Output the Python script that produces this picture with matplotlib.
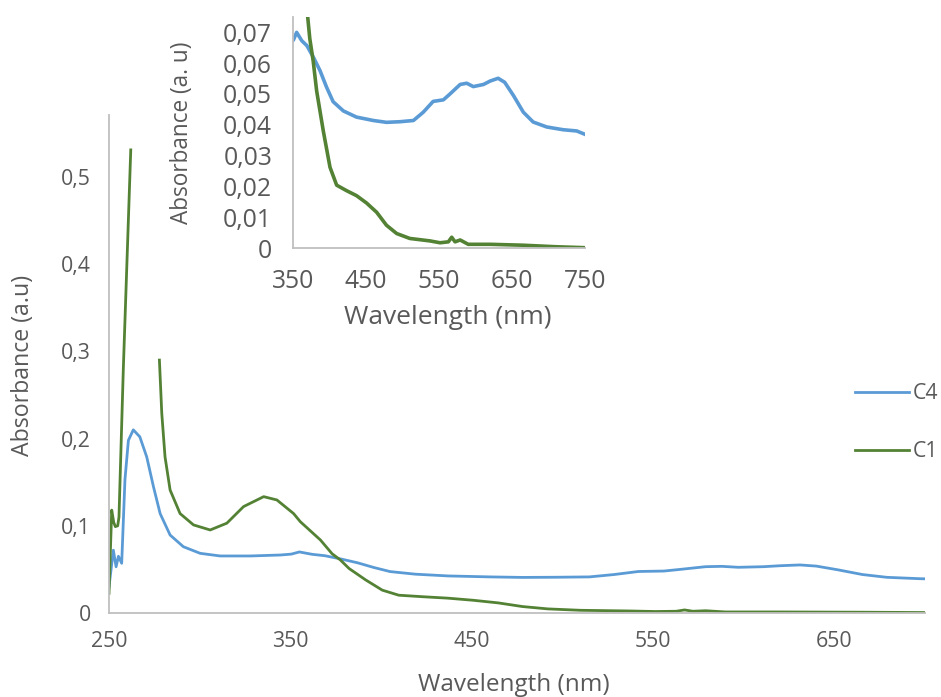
import numpy as np
import matplotlib
matplotlib.use("Agg")
import matplotlib.pyplot as plt

# UV-vis spectra (wavelength nm, absorbance a.u.)
c4_nm = [250, 252.4, 253.9, 255.2, 257, 258.8, 260.7, 263.4, 267, 270.8, 274.5, 278.2,
         283.7, 291, 300.3, 311.3, 328, 344.5, 350.5, 355, 362, 369, 378, 387, 396,
         405, 419, 437, 460, 478, 496.6, 515, 528.5, 542, 556, 565, 579, 588, 597,
         611, 620, 631, 640, 652, 665.5, 679, 697.5, 720, 738.6, 750]
c4_abs = [0.030, 0.072, 0.053, 0.065, 0.057, 0.153, 0.198, 0.210, 0.202, 0.179, 0.145, 0.114,
          0.0894, 0.076, 0.0684, 0.0654, 0.0654, 0.0665, 0.0675, 0.0700, 0.0673, 0.0657,
          0.0619, 0.0576, 0.0522, 0.0475, 0.0445, 0.0425, 0.0414, 0.0408, 0.0410, 0.0414,
          0.0441, 0.0476, 0.0481, 0.0500, 0.0531, 0.0535, 0.0524, 0.0531, 0.0542, 0.0551,
          0.0538, 0.0495, 0.0441, 0.0409, 0.0393, 0.0384, 0.0380, 0.0369]

# the C1 record has a gap after the sharp peak near 262 nm
c1_nm = [250, 251.5, 252.6, 253.5, 254.8, 255.5, 257.9, 262, 263, 277.8, 279.1, 280.9,
         283.7, 289.2, 296.6, 305.8, 315, 324.2, 335.3, 342.6, 351.8, 355.5, 366.6, 373,
         377.6, 382.4, 391.5, 400.7, 409.8, 423.5, 437, 450.8, 464.6, 478, 492, 510,
         537.7, 551.4, 562.8, 567.4, 572, 579, 590, 620, 665.5, 711, 750]
c1_abs = [0.0225, 0.118, 0.104, 0.099, 0.100, 0.110, 0.280, 0.531, np.nan, 0.290, 0.229, 0.179,
          0.141, 0.114, 0.101, 0.0952, 0.103, 0.122, 0.1334, 0.1296, 0.114, 0.1047, 0.0837,
          0.068, 0.0608, 0.051, 0.038, 0.0262, 0.0204, 0.0186, 0.0170, 0.0146, 0.0116,
          0.0074, 0.0047, 0.0031, 0.0023, 0.0017, 0.0020, 0.0035, 0.0020, 0.0026, 0.0012,
          0.0012, 0.0009, 0.0004, 0.0001]

main_xticks = [250, 350, 450, 550, 650]
main_yticks = [0, 0.1, 0.2, 0.3, 0.4, 0.5]
inset_xticks = [350, 450, 550, 650, 750]
inset_yticks = [0, 0.01, 0.02, 0.03, 0.04, 0.05, 0.06, 0.07]

BLUE = "#5B9BD5"
GREEN = "#548235"
GREY = "#595959"
AXIS = "#BFBFBF"

plt.rcParams['font.family'] = ['Open Sans', 'DejaVu Sans']


def comma(v):
    s = "{:g}".format(v)
    return s.replace(".", ",")


def style(ax, fs, xpad, ypad):
    for side in ("top", "right"):
        ax.spines[side].set_visible(False)
    for side in ("left", "bottom"):
        ax.spines[side].set_color(AXIS)
        ax.spines[side].set_linewidth(1.3)
    ax.tick_params(length=0, labelsize=fs, labelcolor=GREY)
    ax.tick_params(axis="x", pad=xpad)
    ax.tick_params(axis="y", pad=ypad)


fig = plt.figure(figsize=(9.41, 6.97), dpi=100)

# main chart
ax = fig.add_axes([109 / 941, 1 - 613 / 697, 816 / 941, 498 / 697])
ax.plot(c4_nm, c4_abs, color=BLUE, lw=2.0, label="C4")
ax.plot(c1_nm, c1_abs, color=GREEN, lw=2.0, label="C1")
ax.set_xlim(250, 700)
ax.set_ylim(0, 0.571)
ax.set_xticks(main_xticks)
ax.set_yticks(main_yticks)
ax.set_yticklabels([comma(v) for v in main_yticks])
style(ax, 15.3, 13, 13)
ax.set_xlabel("Wavelength (nm)", fontsize=17.5, color=GREY)
ax.set_ylabel("Absorbance (a.u)", fontsize=16.7, color=GREY)
ax.xaxis.label.set_va("center")
ax.yaxis.label.set_va("center")
ax.xaxis.set_label_coords((514 - 109) / 816, (613 - 685) / 498)
ax.yaxis.set_label_coords((23 - 109) / 816, (613 - 365) / 498)

ax.legend(loc="upper left", bbox_to_anchor=(855 / 941, 1 - 383 / 697),
          bbox_transform=fig.transFigure, frameon=False, borderpad=0,
          borderaxespad=0, handlelength=2.55, handletextpad=0.15,
          labelspacing=1.75, fontsize=15.3, labelcolor=GREY)

# inset
ins = fig.add_axes([293 / 941, 1 - 248 / 697, 292 / 941, 231 / 697])
ins.plot(c4_nm, c4_abs, color=BLUE, lw=2.6)
ins.plot(c1_nm, c1_abs, color=GREEN, lw=2.6)
ins.set_xlim(350, 750)
ins.set_ylim(0, 0.075)
ins.set_xticks(inset_xticks)
ins.set_yticks(inset_yticks)
ins.set_yticklabels([comma(v) for v in inset_yticks])
style(ins, 17.8, 15, 15)
ins.set_xlabel("Wavelength (nm)", fontsize=19, color=GREY)
ins.set_ylabel("Absorbance (a. u)", fontsize=16.3, color=GREY)
ins.xaxis.label.set_va("center")
ins.yaxis.label.set_va("center")
ins.xaxis.set_label_coords((448 - 293) / 292, (248 - 318) / 231)
ins.yaxis.set_label_coords((182 - 293) / 292, (248 - 133) / 231)

fig.savefig("out.png", dpi=100)
